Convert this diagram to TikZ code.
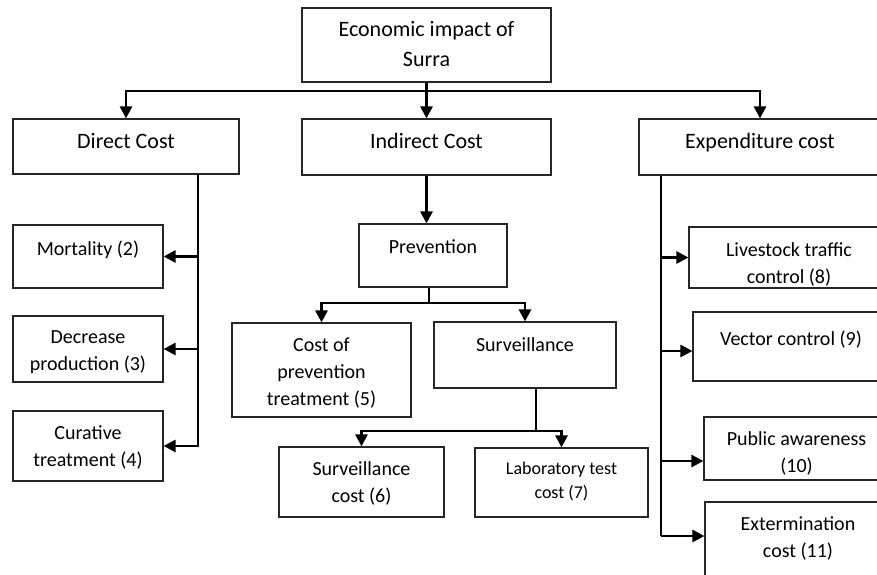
\documentclass[tikz,border=0pt]{standalone}
\usepackage{fontspec}
\setmainfont{Carlito}
\usetikzlibrary{positioning,fit,arrows.meta}
\tikzset{
	box/.style={draw=black!85, line width=0.9pt, inner sep=0pt},
	txt/.style={align=center, inner sep=0pt, font=\fontsize{15}{20}\selectfont, execute at begin node=\strut},
	bigtxt/.style={txt, font=\fontsize{16.5}{22.5}\selectfont},
	smalltxt/.style={txt, font=\fontsize{13.5}{18.5}\selectfont},
	line/.style={line width=2.1pt},
	arr/.style={line width=2.1pt, -{Triangle[length=9pt,width=9pt]}}
}
\begin{document}
\begin{tikzpicture}[x=0.75pt, y=-0.75pt]
				\useasboundingbox (0,0) rectangle (877,574);
				\clip (0,0) rectangle (877,574);
				
				\node[box, fit={(302,8) (551,82)}] (impact) {};
				\node[box, fit={(13,119) (239,174)}] (direct) {};
				\node[box, fit={(302,119) (551,175)}] (indirect) {};
				\node[box, fit={(639,119) (881,175)}] (expend) {};
				
				\node[box, fit={(13,225) (163,288)}] (mort) {};
				\node[box, fit={(13,316) (163,382)}] (decr) {};
				\node[box, fit={(13,411) (163,481)}] (cur) {};
				
				\node[box, fit={(359,224) (507,287)}] (prev) {};
				\node[box, fit={(232,323) (411,417)}] (cprev) {};
				\node[box, fit={(434,322) (616,388)}] (surv) {};
				\node[box, fit={(279,447) (444,517)}] (scost) {};
				\node[box, fit={(475,448) (648,517)}] (lab) {};
				
				\node[box, fit={(689,227) (889,288)}] (live) {};
				\node[box, fit={(693,312) (889,381)}] (vect) {};
				\node[box, fit={(704,417) (889,480)}] (pub) {};
				\node[box, fit={(705,502) (891,595)}] (ext) {};
				
				\node[bigtxt, below=10.5pt of impact.north] (impactT) {Economic impact of\\Surra};
				\node[bigtxt, below=6.5pt of direct.north] (directT) {Direct Cost};
				\node[bigtxt, below=6.5pt of indirect.north] (indirectT) {Indirect Cost};
				\node[bigtxt, below=6.5pt of expend.north] (expendT) {Expenditure cost};
				
				\node[txt, below=9pt of mort.north] (mortT) {Mortality (2)};
				\node[txt, below=11.5pt of decr.north] (decrT) {Decrease\\production (3)};
				\node[txt, below=11.5pt of cur.north] (curT) {Curative\\treatment (4)};
				
				\node[txt, below=8.5pt of prev.north] (prevT) {Prevention};
				\node[txt, below=11.5pt of cprev.north] (cprevT) {Cost of\\prevention\\treatment (5)};
				\node[txt, below=8pt of surv.north] (survT) {Surveillance};
				\node[txt, below=11.5pt of scost.north] (scostT) {Surveillance\\cost (6)};
				\node[smalltxt, below=10.5pt of lab.north] (labT) {Laboratory test\\cost (7)};
				
				\node[txt, below=12pt of live.north] (liveT) {Livestock traffic\\control (8)};
				\node[txt, below=11pt of vect.north] (vectT) {Vector control (9)};
				\node[txt, below=11.5pt of pub.north] (pubT) {Public awareness\\(10)};
				\node[txt, below=11.5pt of ext.north] (extT) {Extermination\\cost (11)};
				
				\coordinate (topbus) at (428,91);
				\draw[line] (impact.south) -- (impact.south |- topbus);
				\draw[arr] (impact.south |- topbus) -| (direct.north);
				\draw[arr] (impact.south |- topbus) -| (expend.north);
				\draw[arr] (impact.south |- topbus) -- (indirect.north);
				
				\coordinate (dbus) at (198,449);
				\draw[arr] (direct.south -| dbus) |- (cur.east);
				\draw[arr] (mort.east -| dbus) -- (mort.east);
				\draw[arr] (decr.east -| dbus) -- (decr.east);
				
				\draw[arr] (indirect.south) -- (indirect.south |- prev.north);
				\coordinate (pbus) at (429,303);
				\draw[line] (prev.south -| pbus) -- (pbus);
				\draw[arr] (pbus) -| (cprev.north);
				\draw[arr] (pbus) -| (surv.north);
				\coordinate (sbus) at (536,431);
				\draw[line] (surv.south -| sbus) -- (sbus);
				\draw[arr] (sbus) -| (scost.north);
				\draw[arr] (sbus) -| (lab.north);
				
				\coordinate (ebus) at (661,536);
				\coordinate (e2) at (661,351);
				\coordinate (e3) at (661,461);
				\draw[line] (expend.south -| ebus) -- (ebus);
				\draw[arr] (live.west -| ebus) -- (live.west);
				\draw[arr] (e2) -- (e2 -| vect.west);
				\draw[arr] (e3) -- (e3 -| pub.west);
				\draw[arr] (ebus) -- (ebus -| ext.west);
\end{tikzpicture}
\end{document}
